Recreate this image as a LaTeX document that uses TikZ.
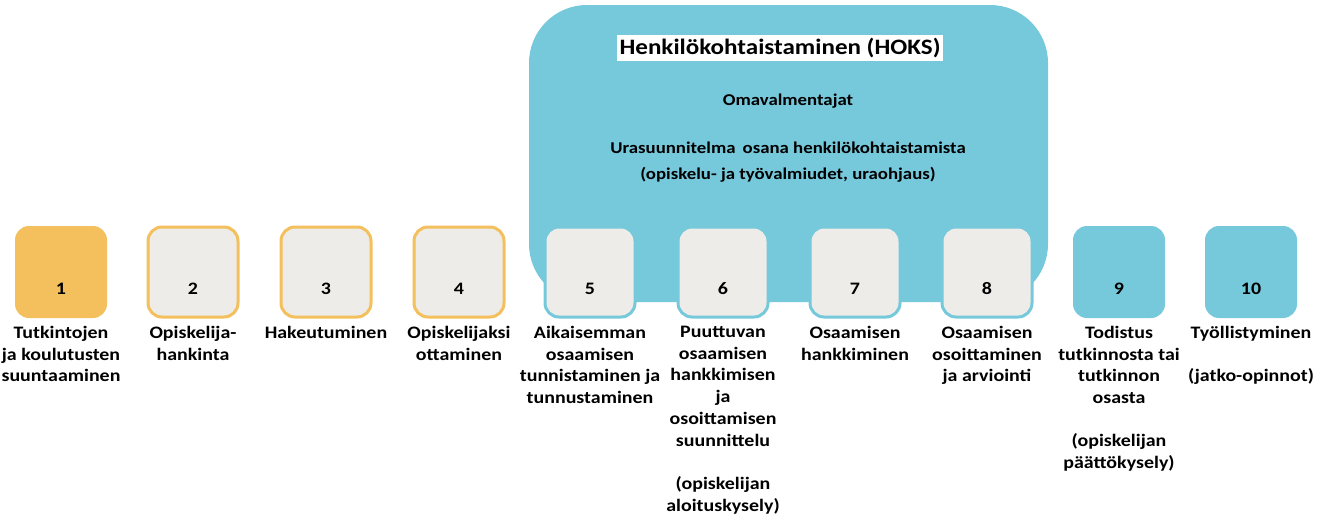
\documentclass[tikz,border=0pt]{standalone}
\usepackage{fontspec}
\setmainfont{Carlito}[FakeStretch=1.14]
\definecolor{orng}{RGB}{243,192,93}
\definecolor{lblue}{RGB}{118,200,219}
\definecolor{lgrey}{RGB}{237,236,232}
\begin{document}
\begin{tikzpicture}[x=1pt,y=-1pt,
  sq/.style={minimum width=#1pt,minimum height=#1pt,rounded corners=14pt,inner sep=0pt},
  sqor/.style={sq=92,fill=orng},
  sqring/.style={sq=90,fill=lgrey,draw=orng,line width=3pt},
  sqbl/.style={sq=90,fill=lgrey,draw=lblue,line width=3pt},
  sqfull/.style={sq=92,fill=lblue},
  num/.style={anchor=base,inner sep=0pt,font=\bfseries\fontsize{17.5}{20}\selectfont},
  lbl/.style={anchor=north,align=center,inner sep=0pt,font=\bfseries\fontsize{17.5}{21.7}\selectfont},
  hdr/.style={align=center,inner sep=0pt,font=\bfseries\fontsize{16.5}{25.5}\selectfont}]
\useasboundingbox (0,0) rectangle (1322,515);
% big HOKS area
\fill[lblue,rounded corners=58pt] (529,5) rectangle (1048,302);
\node[fill=white,inner sep=3pt,font=\bfseries\fontsize{22}{26}\selectfont] (title) at (780,48) {Henkilökohtaistaminen (HOKS)};
\node[hdr] (oma) at (788,101) {Omavalmentajat};
\node[hdr] (ura) at (788,162) {Urasuunnitelma\, osana henkilökohtaistamista\\(opiskelu- ja työvalmiudet, uraohjaus)};
% boxes
\node[sqor] (b1) at (61,272) {};
\node[sqring] (b2) at (193,272) {};
\node[sqring] (b3) at (326,272) {};
\node[sqring] (b4) at (459,272) {};
\node[sqbl] (b5) at (590,272) {};
\node[sqbl] (b6) at (723,272) {};
\node[sqbl] (b7) at (855,272) {};
\node[sqbl] (b8) at (987,272) {};
\node[sqfull] (b9) at (1119,272) {};
\node[sqfull] (b10) at (1251,272) {};
\foreach \i/\x in {1/61,2/193,3/326,4/459,5/590,6/723,7/855,8/987,9/1119,10/1251}
  \node[num] (n\i) at (\x,294) {\i};
% labels
\node[lbl] (l1) at (61,326) {Tutkintojen\\ja koulutusten\\suuntaaminen};
\node[lbl] (l2) at (193,326) {Opiskelija-\\hankinta};
\node[lbl] (l3) at (326,326) {Hakeutuminen};
\node[lbl] (l4) at (459,326) {Opiskelijaksi\\ottaminen};
\node[lbl] (l5) at (590,326) {Aikaisemman\\osaamisen\\tunnistaminen ja\\tunnustaminen};
\node[lbl] (l6) at (723,326) {Puuttuvan\\osaamisen\\hankkimisen\\ja\\osoittamisen\\suunnittelu\\[21.7pt](opiskelijan\\aloituskysely)};
\node[lbl] (l7) at (855,326) {Osaamisen\\hankkiminen};
\node[lbl] (l8) at (987,326) {Osaamisen\\osoittaminen\\ja arviointi};
\node[lbl] (l9) at (1119,326) {Todistus\\tutkinnosta tai\\tutkinnon\\osasta\\[21.7pt](opiskelijan\\päättökysely)};
\node[lbl] (l10) at (1251,326) {Työllistyminen\\[21.7pt](jatko-opinnot)};
\end{tikzpicture}
\end{document}
